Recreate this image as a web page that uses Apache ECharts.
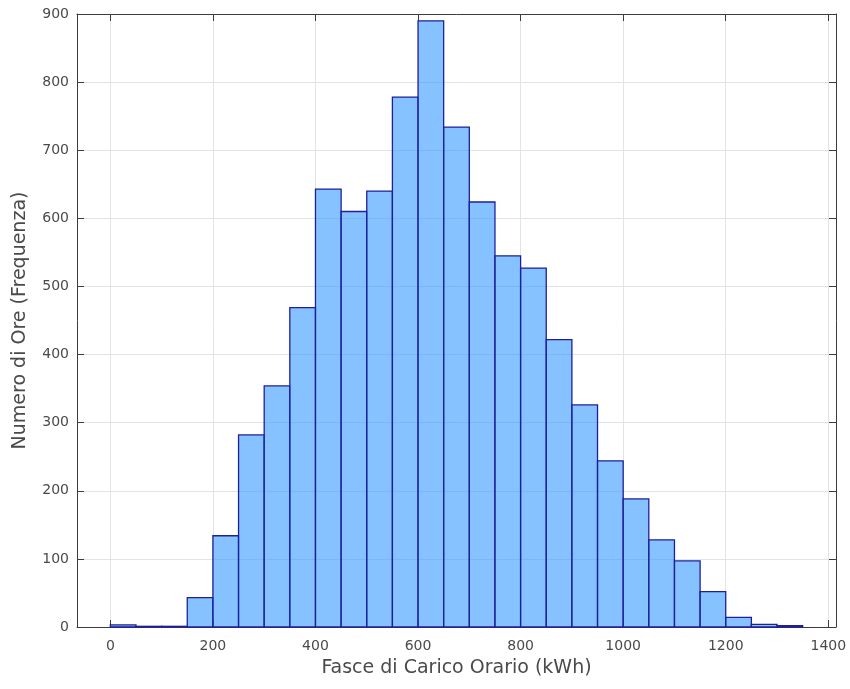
<!DOCTYPE html>
<html>
<head>
<meta charset="utf-8">
<script src="https://cdn.jsdelivr.net/npm/echarts@6/dist/echarts.min.js"></script>
<style>html,body{margin:0;padding:0;background:#fff;}#c{width:850px;height:689px;}</style>
</head>
<body>
<div id="c"></div>
<script>
// Histogram bins (kWh), width 50
var binStarts = [0,50,100,150,200,250,300,350,400,450,500,550,600,650,700,750,800,850,900,950,1000,1050,1100,1150,1200,1250,1300];
var binWidth = 50;
var counts = [3,1,1,43,134,282,354,469,643,610,640,778,890,734,624,545,527,422,326,244,188,128,97,52,14,4,2];
var xTickLabels = [0,200,400,600,800,1000,1200,1400];
var yTickLabels = [0,100,200,300,400,500,600,700,800,900];

var data = binStarts.map(function(s, i){ return [s, s + binWidth, counts[i]]; });

var axisCol = '#3c3c3c';
var labCol = '#4a4a4a';
var font = 'DejaVu Sans, Liberation Sans, Arial, sans-serif';

var chart = echarts.init(document.getElementById('c'), null, {renderer:'canvas'});
chart.setOption({
  animation: false,
  backgroundColor: '#fff',
  grid: {left: 77, right: 14, top: 14, bottom: 62, containLabel: false},
  xAxis: [{
    type: 'value', min: -65, max: 1415, splitNumber: 7,
    position: 'bottom',
    name: 'Fasce di Carico Orario (kWh)', nameLocation: 'middle', nameGap: 32,
    nameTextStyle: {fontFamily: font, fontSize: 19, color: labCol},
    axisLine: {show: true, onZero: false, lineStyle: {color: axisCol, width: 1}},
    axisTick: {show: true, inside: true, length: 7, lineStyle: {color: axisCol}},
    axisLabel: {show: true, margin: 12, fontFamily: font, fontSize: 14, color: labCol,
      showMinLabel: false, showMaxLabel: false,
      formatter: function(v){ return xTickLabels.indexOf(v) >= 0 ? String(v) : ''; }},
    splitLine: {show: true, lineStyle: {color: '#e3e3e3', width: 1}}
  }, {
    type: 'value', min: -65, max: 1415, splitNumber: 7,
    position: 'top',
    axisLine: {show: true, onZero: false, lineStyle: {color: axisCol, width: 1}},
    axisTick: {show: true, inside: true, length: 7, lineStyle: {color: axisCol}},
    axisLabel: {show: false},
    splitLine: {show: false}
  }],
  yAxis: [{
    type: 'value', min: 0, max: 900, interval: 100,
    position: 'left',
    name: 'Numero di Ore (Frequenza)', nameLocation: 'middle', nameGap: 47,
    nameTextStyle: {fontFamily: font, fontSize: 19, color: labCol},
    axisLine: {show: true, onZero: false, lineStyle: {color: axisCol, width: 1}},
    axisTick: {show: true, inside: true, length: 7, lineStyle: {color: axisCol}},
    axisLabel: {show: true, margin: 8, fontFamily: font, fontSize: 14, color: labCol,
      formatter: function(v){ return yTickLabels.indexOf(v) >= 0 ? String(v) : ''; }},
    splitLine: {show: true, lineStyle: {color: '#e3e3e3', width: 1}}
  }, {
    type: 'value', min: 0, max: 900, interval: 100,
    position: 'right',
    axisLine: {show: true, onZero: false, lineStyle: {color: axisCol, width: 1}},
    axisTick: {show: true, inside: true, length: 7, lineStyle: {color: axisCol}},
    axisLabel: {show: false},
    splitLine: {show: false}
  }],
  series: [{
    type: 'custom',
    xAxisIndex: 0, yAxisIndex: 0,
    data: data,
    encode: {x: [0, 1], y: 2},
    renderItem: function(params, api){
      var p0 = api.coord([api.value(0), 0]);
      var p1 = api.coord([api.value(1), api.value(2)]);
      return {
        type: 'rect',
        shape: {x: p0[0], y: p1[1], width: p1[0] - p0[0], height: p0[1] - p1[1]},
        style: {fill: 'rgba(51,153,255,0.6)', stroke: '#1f1f9c', lineWidth: 1.3}
      };
    }
  }]
});
</script>
</body>
</html>
